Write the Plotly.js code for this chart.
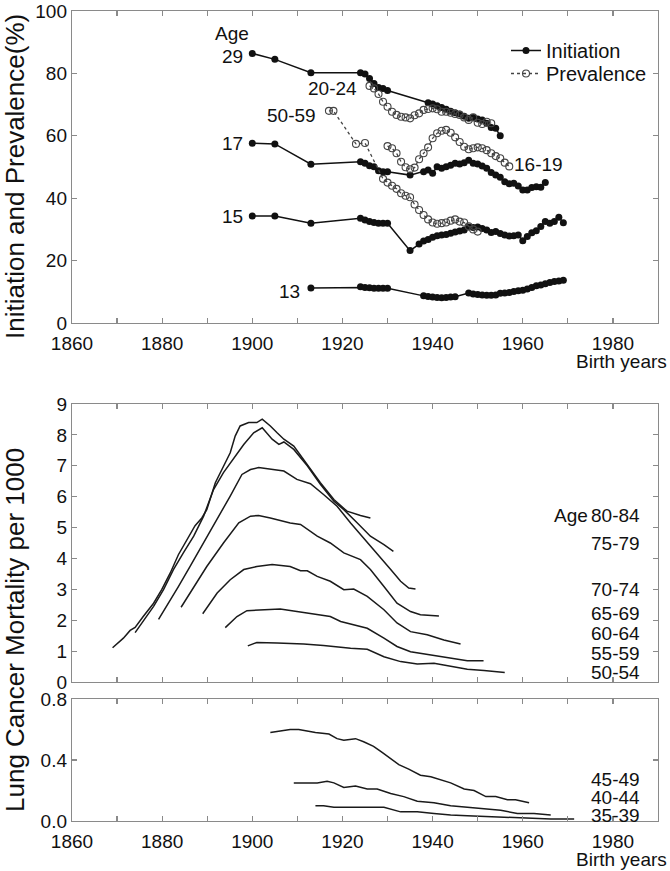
<!DOCTYPE html>
<html><head><meta charset="utf-8">
<script src="https://cdn.plot.ly/plotly-3.0.1.min.js"></script>
<style>html,body{margin:0;padding:0;background:#fff}#chart{width:670px;height:871px}</style>
</head><body><div id="chart"></div>
<script>
// ---------- Top panel: smoking initiation (filled) and prevalence (open) ----------
const yrsInit29 = [1900,1905,1913,1924,1925,1926,1927,1928,1929,1930,1939,1940,1941,1942,1943,1944,1945,1946,1947,1948,1949,1950,1951,1952,1953,1954,1955];
const init29 = [86.4,84.5,80.2,80.2,79.8,78.4,76.8,75.5,75.2,74.5,70.6,70.2,69.6,69.1,68.5,67.9,67.4,67,66.3,65.6,65.9,65.4,65.1,64,62.7,62.4,60];
const yrsPrev2024 = [1926,1927,1928,1929,1930,1931,1932,1933,1934,1935,1936,1937,1938,1939,1940,1941,1942,1943,1944,1945,1946,1947,1948,1949,1950,1951,1952,1953];
const prev2024 = [76,75.2,73.4,70.9,69.3,67.7,66.7,66.1,65.9,65.6,66.6,67.2,68.3,68.6,68.8,68.5,67.7,67.7,67.4,67,66.7,65.9,65.1,65.9,64.2,63.8,64.5,64];
const yrsInit17 = [1900,1905,1913,1924,1925,1926,1927,1928,1929,1930,1935,1938,1939,1940,1941,1942,1943,1944,1945,1946,1947,1948,1949,1950,1951,1952,1953,1954,1955,1956,1957,1958,1959,1960,1961,1962,1963,1964,1965];
const init17 = [57.6,57.4,50.9,51.7,51.2,50.4,50.1,48.8,48.5,48.5,47.4,48.5,49,48,50.1,49.6,50.1,50.6,51.2,51,51.4,52.2,51.2,51,50.3,49.6,48.2,47.4,46.7,45.3,44.6,44.8,43.9,42.6,42.6,43.4,43.7,43.5,45];
const yrsPrev1619 = [1930,1931,1932,1933,1934,1935,1936,1937,1938,1939,1940,1941,1942,1943,1944,1945,1946,1947,1948,1949,1950,1951,1952,1953,1954,1955,1956,1957];
const prev1619 = [56.7,56,54.4,51.7,49.9,49.3,49.8,52.5,54.4,56.3,59.2,60.8,61.6,61.9,61,59.5,58,56.5,55.7,56,56.3,56,55.4,54.4,53.5,52.8,51.4,50.2];
const yrsInit15 = [1900,1905,1913,1924,1925,1926,1927,1928,1929,1930,1935,1937,1938,1939,1940,1941,1942,1943,1944,1945,1946,1947,1948,1949,1950,1951,1952,1953,1954,1955,1956,1957,1958,1959,1960,1961,1962,1963,1964,1965,1966,1967,1968,1969];
const init15 = [34.3,34.3,32,33.6,33,32.5,32.2,32,32,32,23.2,25.3,26.3,26.8,27.5,28,28.2,28.4,28.8,29.2,29.5,29.8,30.8,30.6,30.8,30.3,29.8,29,29.3,28.7,28.2,27.9,28,28.2,26.4,27.7,28.9,29.6,30.9,32.5,32,32.5,33.9,32.1];
const yrsPrev5059 = [1917,1918,1923,1925,1929,1930,1931,1932,1933,1934,1935,1936,1937,1938,1939,1940,1941,1942,1943,1944,1945,1946,1947,1948,1949,1950];
const prev5059 = [68,68,57.4,57.7,46.2,45,44,43,41.6,40.8,40.3,38,36.2,34.6,33.2,32.2,31.8,32,32.2,32.8,33.2,32.5,32.2,31,30,29.3];
const yrsInit13 = [1913,1924,1925,1926,1927,1928,1929,1930,1938,1939,1940,1941,1942,1943,1944,1945,1948,1949,1950,1951,1952,1953,1954,1955,1956,1957,1958,1959,1960,1961,1962,1963,1964,1965,1966,1967,1968,1969];
const init13 = [11.2,11.6,11.4,11.3,11.1,11.1,11.1,11.1,8.7,8.5,8.3,8.2,8.1,8.2,8.3,8.4,9.6,9.3,9.1,9,8.9,8.9,9,9.5,9.6,9.8,10.1,10.3,10.5,10.9,11.4,11.9,12.2,12.6,13,13.3,13.5,13.7];

// ---------- Middle panel: lung cancer mortality per 1000, ages 50-84 ----------
const yrsM8084 = [1869,1871.4,1872.9,1874,1875.8,1878.1,1879.9,1881.8,1883.6,1885.5,1887.3,1888.8,1889.9,1891.8,1893.3,1895.1,1896.2,1897.3,1899.2,1901,1902.2,1904,1905.5,1907,1909.2,1912.2,1915.1,1918.1,1921,1924,1926.2];
const m8084 = [1.11,1.42,1.67,1.77,2.12,2.55,2.99,3.53,4.12,4.61,5.06,5.31,5.58,6.45,6.88,7.42,7.96,8.29,8.40,8.40,8.51,8.29,8.07,7.86,7.64,7.05,6.45,5.91,5.53,5.39,5.31];
const yrsM7579 = [1874,1875.8,1878.1,1880.3,1882.5,1884.7,1887,1889.2,1891.4,1893.6,1895.8,1898.1,1900.3,1902.2,1904.4,1905.9,1907,1909.2,1912.2,1915.1,1918.1,1920.3,1923.3,1926.2,1929.2,1931.3];
const m7579 = [1.6,1.96,2.45,2.99,3.64,4.18,4.72,5.37,6.23,6.78,7.21,7.69,8.07,8.23,7.86,7.69,7.77,7.53,7.0,6.4,5.85,5.58,5.15,4.72,4.45,4.23];
const yrsM7074 = [1879.2,1881.4,1883.6,1886.2,1889.2,1892.2,1895.1,1897.7,1899.6,1901.4,1904,1907,1909.9,1912.9,1915.8,1918.8,1921.8,1924.7,1927.7,1930.7,1932.9,1934.7,1936.2];
const m7074 = [2.03,2.55,3.09,3.74,4.5,5.26,6.02,6.72,6.88,6.94,6.88,6.83,6.56,6.42,6.07,5.69,5.15,4.66,4.18,3.64,3.26,3.04,3.01];
const yrsM6569 = [1884.2,1887,1889.9,1893.6,1897,1899.6,1901.4,1904,1908.4,1910.7,1912.2,1914.4,1917.3,1920.3,1924,1926.2,1929.2,1932.1,1935.1,1937.3,1941.4];
const m6569 = [2.42,3.09,3.74,4.5,5.15,5.37,5.39,5.31,5.15,5.1,4.95,4.72,4.5,4.18,3.96,3.64,3.09,2.55,2.28,2.18,2.14];
const yrsM6064 = [1889,1892.2,1895.1,1898.1,1901,1904.4,1908.4,1910.7,1912.2,1914.4,1917.3,1920.3,1922.5,1925.5,1929.2,1932.1,1935.1,1938.8,1942.5,1946.2];
const m6064 = [2.21,2.88,3.31,3.64,3.74,3.8,3.74,3.6,3.6,3.42,3.26,2.99,3.01,2.77,2.34,1.91,1.63,1.53,1.36,1.23];
const yrsM5559 = [1894,1896.6,1898.8,1902.5,1906.2,1909.9,1914.4,1917.3,1919.6,1922.5,1925.5,1929.2,1932.1,1935.1,1939.6,1944,1947.7,1951.3];
const m5559 = [1.76,2.12,2.31,2.34,2.36,2.28,2.18,2.12,1.96,1.85,1.74,1.42,1.15,0.98,0.88,0.77,0.69,0.69];
const yrsM5054 = [1899,1901,1905.5,1911.4,1915.8,1918.8,1921.8,1925.5,1929.2,1932.9,1936.6,1940.3,1944,1947.7,1951.4,1956];
const m5054 = [1.17,1.28,1.26,1.23,1.18,1.13,1.09,1.06,0.82,0.66,0.58,0.61,0.5,0.41,0.37,0.31];

// ---------- Bottom panel: ages 35-49 ----------
const yrsB4549 = [1904,1906.2,1908.4,1910.3,1912.2,1914,1917,1918.8,1920.3,1922.9,1924.7,1926.9,1928.8,1930.7,1932.5,1934.7,1937.3,1939.6,1941.8,1944,1947,1949.2,1951.8,1954,1956.6,1958.4,1961.4];
const b4549 = [0.58,0.59,0.60,0.60,0.59,0.58,0.57,0.54,0.53,0.54,0.52,0.49,0.45,0.41,0.37,0.34,0.30,0.29,0.27,0.25,0.21,0.20,0.16,0.16,0.14,0.14,0.12];
const yrsB4044 = [1909.2,1912.2,1914.4,1916.6,1918.1,1920.3,1922.9,1925.5,1927.7,1930.7,1933.6,1936.6,1940.3,1944,1947.7,1951.4,1955.1,1958.8,1962.5,1966.2];
const b4044 = [0.25,0.25,0.25,0.26,0.25,0.22,0.23,0.21,0.21,0.18,0.16,0.13,0.12,0.10,0.09,0.08,0.07,0.05,0.05,0.04];
const yrsB3539 = [1914,1915.8,1918.1,1921.8,1925.5,1929.2,1932.9,1936.6,1940.3,1944,1947.7,1951.4,1955.1,1958.8,1962.5,1966.2,1971.4];
const b3539 = [0.10,0.10,0.09,0.09,0.09,0.09,0.06,0.06,0.05,0.04,0.035,0.03,0.025,0.02,0.015,0.013,0.013];

// ---------- Ticks and labels ----------
const xTickVals = [1860,1870,1880,1890,1900,1910,1920,1930,1940,1950,1960,1970,1980];
const xTickText = ['1860','','1880','','1900','','1920','','1940','','1960','','1980'];
const topLabels = ['Age','29','17','15','13','20-24','50-59','16-19'];
const midLabels = ['80-84','75-79','70-74','65-69','60-64','55-59','50-54'];
const botLabels = ['45-49','40-44','35-39'];

const W = 670, H = 871;
const FONT = 'Liberation Sans, Arial, Helvetica, sans-serif';
const px = v => v / W, py = v => 1 - v / H;

function initTrace(x, y, name, show) {
  return {x, y, name, showlegend: show, legend: 'legend', type: 'scatter', mode: 'lines+markers',
    xaxis: 'x', yaxis: 'y', line: {color: '#111', width: 1.5},
    marker: {symbol: 'circle', size: 7, color: '#111'}};
}
function prevTrace(x, y, name, show) {
  return {x, y, name, showlegend: show, legend: 'legend2', type: 'scatter', mode: 'lines+markers',
    xaxis: 'x', yaxis: 'y', line: {color: '#444', width: 1.3, dash: 'dot'},
    marker: {symbol: 'circle-open', size: 7, color: '#444', line: {width: 1.1}}};
}
function mortTrace(x, y, ax) {
  return {x, y, type: 'scatter', mode: 'lines', showlegend: false,
    xaxis: ax[0], yaxis: ax[1], line: {color: '#1a1a1a', width: 1.5}};
}

const traces = [
  initTrace(yrsInit29, init29, 'Initiation', true),
  initTrace(yrsInit17, init17, 'Initiation', false),
  initTrace(yrsInit15, init15, 'Initiation', false),
  initTrace(yrsInit13, init13, 'Initiation', false),
  prevTrace(yrsPrev2024, prev2024, 'Prevalence', true),
  prevTrace(yrsPrev1619, prev1619, 'Prevalence', false),
  prevTrace(yrsPrev5059, prev5059, 'Prevalence', false),
  mortTrace(yrsM8084, m8084, ['x2','y2']),
  mortTrace(yrsM7579, m7579, ['x2','y2']),
  mortTrace(yrsM7074, m7074, ['x2','y2']),
  mortTrace(yrsM6569, m6569, ['x2','y2']),
  mortTrace(yrsM6064, m6064, ['x2','y2']),
  mortTrace(yrsM5559, m5559, ['x2','y2']),
  mortTrace(yrsM5054, m5054, ['x2','y2']),
  mortTrace(yrsB4549, b4549, ['x3','y3']),
  mortTrace(yrsB4044, b4044, ['x3','y3']),
  mortTrace(yrsB3539, b3539, ['x3','y3'])
];

const axCommon = {showline: true, linecolor: '#8a8a8a', linewidth: 1.2, mirror: 'ticks',
  ticks: 'inside', ticklen: 5, tickcolor: '#8a8a8a', tickwidth: 1.2,
  showgrid: false, zeroline: false, tickfont: {family: FONT, size: 19, color: '#111'}};
const xDom = [px(72), px(658)];
const xCommon = Object.assign({}, axCommon, {domain: xDom, range: [1860, 1990],
  tickmode: 'array', tickvals: xTickVals, ticktext: xTickText, ticklabelstandoff: 3});

function ann(text, x, y, xanchor, extra) {
  return Object.assign({text, x: px(x), y: py(y), xref: 'paper', yref: 'paper',
    xanchor, yanchor: 'middle', showarrow: false,
    font: {family: FONT, size: 19, color: '#111'}}, extra || {});
}

const annotations = [
  ann(topLabels[0], 232, 33, 'center'),
  ann(topLabels[1], 245, 57, 'right'),
  ann(topLabels[2], 245, 143, 'right'),
  ann(topLabels[3], 245, 216, 'right'),
  ann(topLabels[4], 302, 291, 'right'),
  ann(topLabels[5], 306, 88, 'left'),
  ann(topLabels[6], 265, 116, 'left'),
  ann(topLabels[7], 512, 164, 'left'),
  ann('Birth years', 668, 361, 'right', {borderpad: 0}),
  ann('Age', 590, 515, 'right'),
  ann(midLabels[0], 642, 515, 'right'),
  ann(midLabels[1], 642, 543, 'right'),
  ann(midLabels[2], 642, 589, 'right'),
  ann(midLabels[3], 642, 613, 'right'),
  ann(midLabels[4], 642, 633, 'right'),
  ann(midLabels[5], 642, 653, 'right'),
  ann(midLabels[6], 642, 672, 'right'),
  ann(botLabels[0], 642, 779, 'right'),
  ann(botLabels[1], 642, 797, 'right'),
  ann(botLabels[2], 642, 815, 'right'),
  ann('Birth years', 668, 859, 'right', {borderpad: 0}),
  ann('Initiation and Prevalence(%)', 15, 177, 'center', {textangle: -90, font: {family: FONT, size: 26, color: '#111'}}),
  ann('Lung Cancer Mortality per 1000', 15, 630, 'center', {textangle: -90, font: {family: FONT, size: 26, color: '#111'}})
];

const legendCommon = {x: px(506), xanchor: 'left', yanchor: 'top',
  bgcolor: 'rgba(0,0,0,0)', font: {family: FONT, size: 20, color: '#111'}};

const layout = {
  width: W, height: H, margin: {l: 0, r: 0, t: 0, b: 0},
  paper_bgcolor: '#fff', plot_bgcolor: '#fff',
  font: {family: FONT, size: 19, color: '#111'},
  showlegend: true,
  legend: Object.assign({}, legendCommon, {y: py(31)}),
  legend2: Object.assign({}, legendCommon, {y: py(54)}),
  xaxis: Object.assign({}, xCommon, {anchor: 'y'}),
  yaxis: Object.assign({}, axCommon, {domain: [py(323), py(11)], range: [0, 100], dtick: 20, anchor: 'x'}),
  xaxis2: Object.assign({}, xCommon, {anchor: 'y2', showticklabels: false}),
  yaxis2: Object.assign({}, axCommon, {domain: [py(682), py(404)], range: [0, 9], dtick: 1, anchor: 'x2'}),
  xaxis3: Object.assign({}, xCommon, {anchor: 'y3'}),
  yaxis3: Object.assign({}, axCommon, {domain: [py(821), py(699)], range: [0, 0.8],
    tickmode: 'array', tickvals: [0, 0.4, 0.8], ticktext: ['0.0', '0.4', '0.8'], anchor: 'x3'}),
  annotations
};

Plotly.newPlot('chart', traces, layout, {displayModeBar: false, staticPlot: true});
</script>
</body></html>
